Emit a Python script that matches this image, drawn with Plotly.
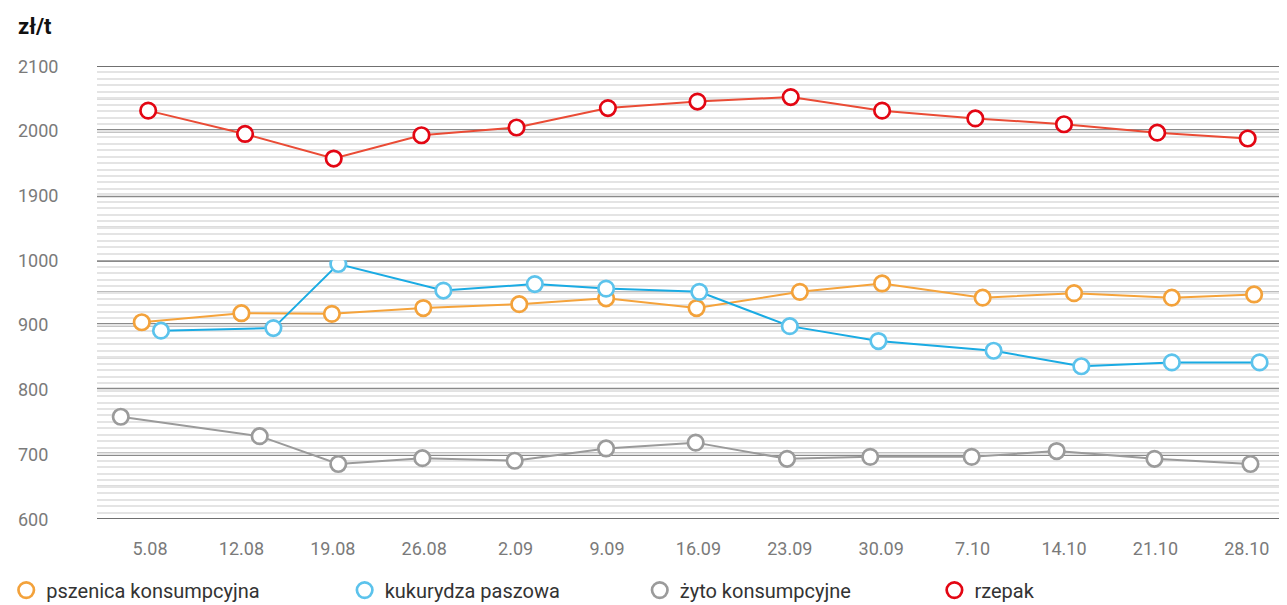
import plotly.graph_objects as go

# categories (weekly quotation dates)
labels = ['5.08', '12.08', '19.08', '26.08', '2.09', '9.09', '16.09',
          '23.09', '30.09', '7.10', '14.10', '21.10', '28.10']

# pszenica konsumpcyjna
psz_x = [-0.09, 1.00, 1.99, 2.99, 4.04, 4.99, 5.98, 7.11, 8.01, 9.11, 10.11, 11.18, 12.08]
psz_y = [904, 918, 917, 926, 932, 941, 926, 951, 964, 942, 949, 942, 947]

# kukurydza paszowa
kuk_x = [0.12, 1.35, 2.06, 3.21, 4.21, 4.99, 6.01, 7.00, 7.97, 9.23, 10.19, 11.18, 12.14]
kuk_y = [891, 895, 994, 953, 963, 956, 951, 898, 875, 860, 836, 842, 842]

# żyto konsumpcyjne
zyt_x = [-0.32, 1.20, 2.06, 2.98, 3.99, 4.99, 5.97, 6.97, 7.88, 8.99, 9.92, 10.99, 12.04]
zyt_y = [758, 728, 685, 694, 690, 709, 718, 693, 696, 696, 705, 693, 685]

# rzepak (upper part of the broken axis)
rze_x = [-0.02, 1.04, 2.01, 2.97, 4.01, 5.01, 5.99, 7.01, 8.01, 9.03, 10.00, 11.02, 12.01]
rze_y = [2031, 1995, 1957, 1993, 2005, 2035, 2045, 2052, 2031, 2019, 2010, 1997, 1988]

ytick_low = [600, 700, 800, 900, 1000]
ytick_high = [1900, 2000, 2100]

series = [
    # name, x, y, line colour, marker colour, axis, legend
    ('pszenica konsumpcyjna', psz_x, psz_y, '#f5a33b', '#f3a23b', 'y', 'legend'),
    ('kukurydza paszowa', kuk_x, kuk_y, '#1aabe3', '#5cc3ec', 'y', 'legend2'),
    ('żyto konsumpcyjne', zyt_x, zyt_y, '#9a9a9a', '#9b9b9b', 'y', 'legend3'),
    ('rzepak', rze_x, rze_y, '#ea4b35', '#e30613', 'y2', 'legend4'),
]

fig = go.Figure()
for name, xs, ys, lc, mc, ax, lg in series:
    fig.add_trace(go.Scatter(x=xs, y=ys, yaxis=ax, mode='lines', showlegend=False,
                             line=dict(color=lc, width=2), hoverinfo='skip'))
    fig.add_trace(go.Scatter(x=xs, y=ys, yaxis=ax, mode='markers', name=name, legend=lg,
                             marker=dict(size=15.5, color='white', symbol='circle',
                                         line=dict(color=mc, width=2.7))))

# dark grid lines every 50, thick ones on the hundreds
shapes = []
for ax, lo, hi in [('y', 600, 1000), ('y2', 1850, 2100)]:
    for v in range(lo, hi + 1, 50):
        if v in (600, 2100):
            w, c = 2, '#707070'
        elif v % 100 == 0:
            w, c = 3.5, '#8a8a8a'
        else:
            w, c = 2, '#7a7a7a'
        shapes.append(dict(type='line', xref='paper', x0=0, x1=1, yref=ax, y0=v, y1=v,
                           line=dict(color=c, width=w), layer='below'))

# left aligned y labels
annotations = []
for ax, vals in [('y', ytick_low), ('y2', ytick_high)]:
    for v in vals:
        annotations.append(dict(xref='paper', x=0, xanchor='left', xshift=-81,
                                yref=ax, y=v, yanchor='middle', text=str(v),
                                showarrow=False,
                                font=dict(size=18, color='#7a7a7a')))
annotations.append(dict(xref='paper', x=0, xanchor='left', xshift=-81,
                        yref='paper', y=1, yanchor='middle', yshift=40,
                        text='<b>zł/t</b>', showarrow=False,
                        font=dict(size=22, color='#111111')))

legend_style = dict(yanchor='middle', y=-0.157, xanchor='left', bgcolor='rgba(0,0,0,0)',
                    font=dict(size=20, color='#333333'), orientation='h',
                    itemwidth=30)

# page body has an 8px margin, so the figure is 16px narrower / 8px shorter
fig.update_layout(
    width=1279, height=597,
    margin=dict(l=89, r=0, t=58, b=86, autoexpand=False),
    paper_bgcolor='white', plot_bgcolor='white',
    font=dict(family='Roboto, sans-serif'),
    xaxis=dict(range=[-0.58, 12.44], tickvals=list(range(len(labels))), ticktext=labels,
               showgrid=False, zeroline=False, showline=False, ticks='',
               ticklabelstandoff=17, tickfont=dict(size=18, color='#7a7a7a')),
    yaxis=dict(domain=[0, 4 / 7], range=[600, 1000], dtick=10, tick0=600,
               showgrid=True, gridcolor='#e4e4e4', gridwidth=1.5,
               showticklabels=False, zeroline=False, showline=False),
    yaxis2=dict(domain=[4 / 7, 1], range=[1800, 2100], dtick=10, tick0=1800,
                showgrid=True, gridcolor='#e4e4e4', gridwidth=1.5,
                showticklabels=False, zeroline=False, showline=False),
    shapes=shapes,
    annotations=annotations,
    legend=dict(x=-0.0763, **legend_style),
    legend2=dict(x=0.2081, **legend_style),
    legend3=dict(x=0.4561, **legend_style),
    legend4=dict(x=0.7037, **legend_style),
)

fig.write_html("out.html")
